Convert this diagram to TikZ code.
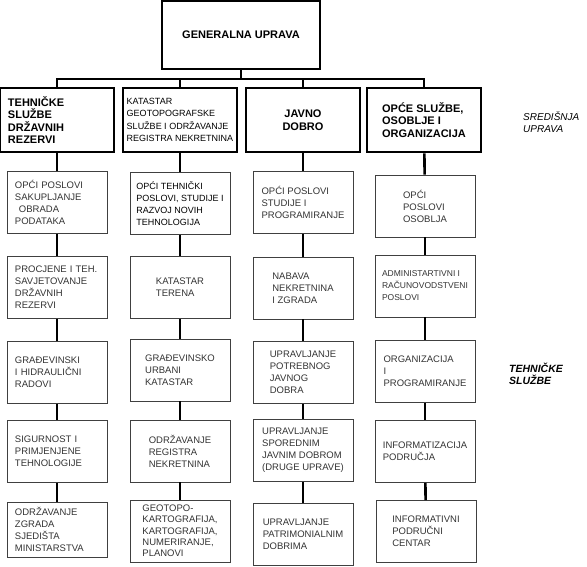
\documentclass[tikz,border=0pt]{standalone}
\usepackage{fontspec}
\setmainfont{Liberation Sans}
\usepackage{tikz}
\usetikzlibrary{positioning}
\tikzset{
  uprava/.style={draw=black,line width=2.6pt,minimum width=114pt,minimum height=64pt,
    font=\fontsize{11}{12.5}\selectfont\bfseries,align=left,inner sep=0pt},
  sluzba/.style={draw=black!75,line width=0.8pt,minimum width=100pt,minimum height=62pt,
    font=\fontsize{9.5}{12}\selectfont,text=black!80,align=left,inner sep=0pt},
  veza/.style={line width=2.6pt},
  oznaka/.style={font=\fontsize{10}{12}\selectfont\itshape,align=left,anchor=west,inner sep=0pt}
}

\begin{document}
\begin{tikzpicture}[x=1pt,y=-1pt]
  \useasboundingbox (0,0) rectangle (587,566);
  % generalna uprava
  \node[uprava,minimum width=158pt,minimum height=68pt,align=center] (gen) at (241,35) {GENERALNA UPRAVA};
  \coordinate (bar) at (241,79);
  % sredisnja uprava
  \node[uprava,text width=98pt] (t1) at (57,120) {TEHNIČKE\\SLUŽBE\\DRŽAVNIH\\REZERVI};
  \node[uprava,font=\fontsize{9}{12.5}\selectfont] (t2) at (180,120) {KATASTAR\\GEOTOPOGRAFSKE\\SLUŽBE I ODRŽAVANJE\\REGISTRA NEKRETNINA};
  \node[uprava,align=center] (t3) at (303,120) {JAVNO\\DOBRO};
  \node[uprava] (t4) at (424,120) {OPĆE SLUŽBE,\\OSOBLJE I\\ORGANIZACIJA};
  \node[oznaka] (sredisnja) at (523,122) {SREDIŠNJA\\UPRAVA};
  % tehnicke sluzbe
  \node[sluzba,text width=84pt] (a1) at (57,202.5) {OPĆI POSLOVI\\SAKUPLJANJE\\\hspace*{4pt}OBRADA\\PODATAKA};
  \node[sluzba,text width=84pt] (a2) at (57,287.5) {PROCJENE I TEH.\\SAVJETOVANJE\\DRŽAVNIH\\REZERVI};
  \node[sluzba,text width=84pt] (a3) at (57,372.5) {GRAĐEVINSKI\\I HIDRAULIČNI\\RADOVI};
  \node[sluzba,text width=84pt] (a4) at (57,451.5) {SIGURNOST I\\PRIMJENJENE\\TEHNOLOGIJE};
  \node[sluzba,text width=84pt,minimum height=55pt] (a5) at (57,529.5) {ODRŽAVANJE\\ZGRADA\\SJEDIŠTA\\MINISTARSTVA};

  \node[sluzba,font=\fontsize{9}{12}\selectfont,text=black] (b1) at (180,203.5) {OPĆI TEHNIČKI\\POSLOVI, STUDIJE I\\RAZVOJ NOVIH\\TEHNOLOGIJA};
  \node[sluzba] (b2) at (180,287.5) {KATASTAR\\TERENA};
  \node[sluzba] (b3) at (180,370) {GRAĐEVINSKO\\URBANI\\KATASTAR};
  \node[sluzba] (b4) at (180,451) {ODRŽAVANJE\\REGISTRA\\NEKRETNINA};
  \node[sluzba,font=\fontsize{9.5}{11.3}\selectfont] (b5) at (180,531) {GEOTOPO-\\KARTOGRAFIJA,\\KARTOGRAFIJA,\\NUMERIRANJE,\\PLANOVI};

  \node[sluzba] (c1) at (303,202.5) {OPĆI POSLOVI\\STUDIJE I\\PROGRAMIRANJE};
  \node[sluzba] (c2) at (303,288) {NABAVA\\NEKRETNINA\\I ZGRADA};
  \node[sluzba] (c3) at (303,372.5) {UPRAVLJANJE\\POTREBNOG\\JAVNOG\\DOBRA};
  \node[sluzba] (c4) at (303,450.5) {UPRAVLJANJE\\SPOREDNIM\\JAVNIM DOBROM\\(DRUGE UPRAVE)};
  \node[sluzba] (c5) at (303,534) {UPRAVLJANJE\\PATRIMONIALNIM\\DOBRIMA};

  \node[sluzba] (d1) at (425,206) {OPĆI\\POSLOVI\\OSOBLJA};
  \node[sluzba,font=\fontsize{8.5}{12}\selectfont] (d2) at (425,286) {ADMINISTARTIVNI I\\RAČUNOVODSTVENI\\POSLOVI};
  \node[sluzba] (d3) at (425,371.5) {ORGANIZACIJA\\I\\PROGRAMIRANJE};
  \node[sluzba] (d4) at (425,451.5) {INFORMATIZACIJA\\PODRUČJA};
  \node[sluzba] (d5) at (426,531.5) {INFORMATIVNI\\PODRUČNI\\CENTAR};
  \node[oznaka,font=\fontsize{10.5}{12}\selectfont\bfseries\itshape] (tehnicke) at (509,374) {TEHNIČKE\\SLUŽBE};
  % veze
  \draw[veza] (gen) -- (gen |- bar);
  \draw[veza] (t1.north) -- (t1.north |- bar) -- (t4.north |- bar) -- (t4.north);
  \foreach \t in {t2,t3}
    \draw[veza] (\t.north |- bar) -- (\t.north);
  \foreach \c/\t in {a/t1,b/t2,c/t3,d/t4} {
    \draw[veza] (\t) -- (\c1);
    \foreach \i [count=\j from 2] in {1,...,4}
      \draw[veza] (\c\i) -- (\c\j);
  }
\end{tikzpicture}
\end{document}
